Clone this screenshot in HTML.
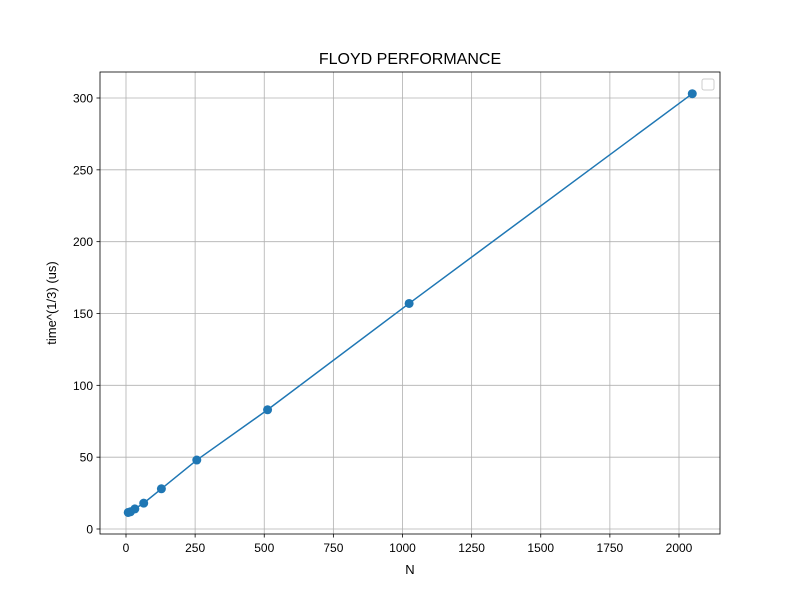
<!DOCTYPE html>
<html><head><meta charset="utf-8"><style>body{margin:0;background:#fff}svg{font-family:"Liberation Sans","DejaVu Sans",sans-serif}</style></head>
<body>
<svg width="800" height="600" viewBox="0 0 800 600">
<rect x="0" y="0" width="800" height="600" fill="#fff"/>
<g id="grid"></g><g id="ticks"></g>
<polyline id="line" fill="none" stroke="#1f77b4" stroke-width="1.5"/>
<g id="pts"></g>
<rect x="100" y="72" width="620" height="462" fill="none" stroke="#000" stroke-width="0.8"/>
<rect x="702" y="79" width="12" height="11" rx="2" fill="#fff" stroke="#ccc"/>
<text x="410" y="64" text-anchor="middle" font-size="16">FLOYD PERFORMANCE</text>
<text x="410" y="574" text-anchor="middle" font-size="13">N</text>
<text transform="translate(56,303) rotate(-90)" text-anchor="middle" font-size="13">time^(1/3) (us)</text>
</svg>
<script>
const ns="http://www.w3.org/2000/svg";
const nValues=[8,16,32,64,128,256,512,1024,2048];
const timeValues=[11.5,12,14,18,28,48,83,157,303];
const xTicks=[0,250,500,750,1000,1250,1500,1750,2000];
const yTicks=[0,50,100,150,200,250,300];
const X=v=>126+v*553/2000, Y=v=>529-v*431/300;
function mk(t,a,p){const e=document.createElementNS(ns,t);for(const k in a)e.setAttribute(k,a[k]);p.appendChild(e);return e;}
const g=document.getElementById('grid'),tk=document.getElementById('ticks');
xTicks.forEach(v=>{const x=X(v);
 const l=mk('line',{x1:x,x2:x,y1:72,y2:534,stroke:'#b0b0b0','stroke-width':0.8},g);
 
 mk('line',{x1:x,x2:x,y1:534,y2:537.5,stroke:'#000','stroke-width':0.8},tk);
 const t=mk('text',{x:x,y:552,'text-anchor':'middle','font-size':12},tk);t.textContent=v;
 });
yTicks.forEach(v=>{const y=Y(v);
 const l=mk('line',{x1:100,x2:720,y1:y,y2:y,stroke:'#b0b0b0','stroke-width':0.8},g);
 
 mk('line',{x1:96.5,x2:100,y1:y,y2:y,stroke:'#000','stroke-width':0.8},tk);
 const t=mk('text',{x:93,y:y+4.5,'text-anchor':'end','font-size':12},tk);t.textContent=v;
 });
document.getElementById('line').setAttribute('points',nValues.map((n,i)=>X(n)+','+Y(timeValues[i])).join(' '));
const p=document.getElementById('pts');
nValues.forEach((n,i)=>{const c=mk('circle',{cx:X(n),cy:Y(timeValues[i]),r:4.5,fill:'#1f77b4'},p);
 });
</script>
</body></html>
